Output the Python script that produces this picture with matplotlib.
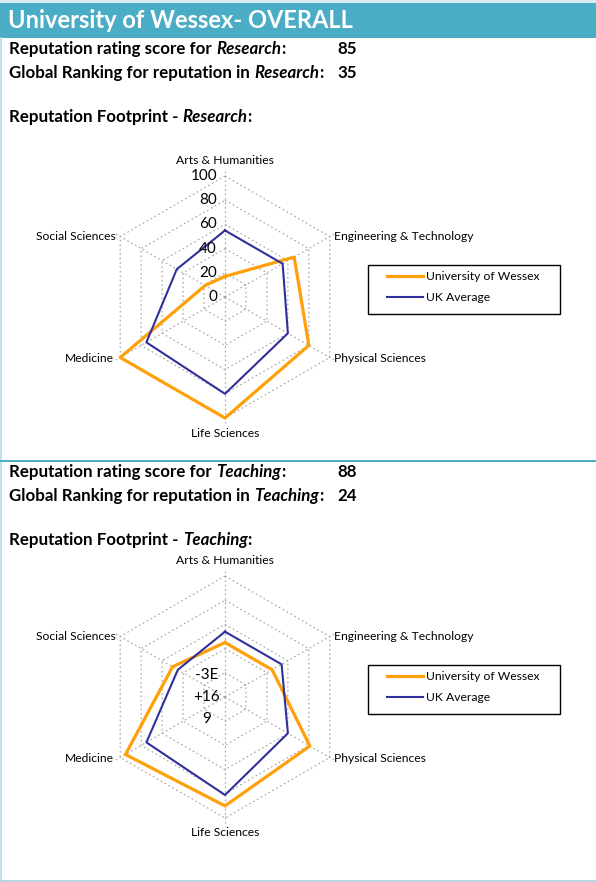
import numpy as np
import matplotlib
matplotlib.use("Agg")
from matplotlib import pyplot as plt
from matplotlib.patches import Rectangle

plt.rcParams['font.family'] = ['Lato', 'DejaVu Sans']

# data
categories = ['Arts & Humanities', 'Engineering & Technology', 'Physical Sciences',
              'Life Sciences', 'Medicine', 'Social Sciences']
research_wessex = [17, 66, 80, 100, 100, 19]
research_uk = [55, 55, 60, 80, 75, 46]
teaching_wessex = [45, 45, 81, 90, 95, 50]
teaching_uk = [54, 54, 60, 81, 75, 45]
research_ticks = [0, 20, 40, 60, 80, 100]
teaching_tick_text = '-3E\n+16\n9'
series_names = ['University of Wessex', 'UK Average']
research_score, research_rank = 85, 35
teaching_score, teaching_rank = 88, 24

ORANGE = '#FFA00A'
BLUE = '#30309C'
TEAL = '#4BACC6'
GRID = '#A0A0A0'
BODY = 12.2

W, H = 596, 882
fig = plt.figure(figsize=(W / 100, H / 100), dpi=100)
bg = fig.add_axes([0, 0, 1, 1])
bg.set_xlim(0, W)
bg.set_ylim(H, 0)
bg.axis('off')

# frame + header bar
bg.add_patch(Rectangle((0, 0), W, 3, color='#D6ECF2', lw=0))
bg.add_patch(Rectangle((0, 3), W, 35, color=TEAL, lw=0))
bg.plot([0.8, 0.8], [38, H], color='#B4DDE8', lw=1.2)
bg.plot([0, W], [460.5, 460.5], color=TEAL, lw=1.4)
bg.plot([0, W], [881, 881], color='#A6CFDB', lw=1.2)
bg.text(8, 21, 'University of Wessex- OVERALL', color='white', fontsize=17,
        fontweight='bold', va='center', ha='left')


def text_line(x, y, parts, size=BODY):
    prev = None
    for s, italic in parts:
        kw = dict(fontsize=size, fontweight='bold', fontstyle='italic' if italic else 'normal',
                  va='bottom', ha='left', color='black')
        if prev is None:
            prev = bg.annotate(s, xy=(x, y), xycoords='data', **kw)
        else:
            prev = bg.annotate(s, xy=(1, 0), xycoords=prev, **kw)
    return prev


def info_block(top, subject, score, rank):
    text_line(9, top + 57, [('Reputation rating score for ', False), (subject, True), (':', False)])
    bg.text(337, top + 57, str(score), fontsize=BODY, fontweight='bold', va='bottom')
    text_line(9, top + 81, [('Global Ranking for reputation in ', False), (subject, True), (':', False)])
    bg.text(337, top + 81, str(rank), fontsize=BODY, fontweight='bold', va='bottom')
    text_line(9, top + 125, [('Reputation Footprint - ', False), (subject, True), (':', False)])


label_offsets = [((0, 16), 'center'), ((4, 0), 'left'), ((4, -1), 'left'),
                 ((0, -15), 'center'), ((-6, -1), 'right'), ((-4, 0), 'right')]


def radar(cy, wessex, uk, ticks=None, tick_text=None):
    R = 121
    ax = fig.add_axes([(225 - R) / W, (H - cy - R) / H, 2 * R / W, 2 * R / H],
                      projection='polar')
    ax.set_theta_offset(np.pi / 2)
    ax.set_theta_direction(-1)
    ax.set_ylim(0, 100)
    ax.axis('off')
    ang = np.arange(len(categories)) * 2 * np.pi / len(categories)
    closed = np.append(ang, ang[0])
    for r in [20, 40, 60, 80, 100]:
        ax.plot(closed, [r] * len(closed), color=GRID, lw=0.8, ls=(0, (1.5, 2.5)), clip_on=False)
    for a in ang:
        ax.plot([a, a], [0, 104], color=GRID, lw=0.8, ls=(0, (1.5, 2.5)), clip_on=False)
    l1, = ax.plot(closed, wessex + wessex[:1], color=ORANGE, lw=2.3, clip_on=False)
    l2, = ax.plot(closed, uk + uk[:1], color=BLUE, lw=1.5, clip_on=False)
    for a, cat, (off, ha) in zip(ang, categories, label_offsets):
        ax.annotate(cat, xy=(a, 100), xytext=off, textcoords='offset pixels',
                    ha=ha, va='center', fontsize=8.7, annotation_clip=False)
    if ticks is not None:
        for t in ticks:
            ax.annotate(str(t), xy=(0, t), xytext=(-8, 0), textcoords='offset pixels',
                        ha='right', va='center', fontsize=11, annotation_clip=False)
    if tick_text is not None:
        ax.annotate(tick_text, xy=(0, 0), xytext=(-18, 0), textcoords='offset pixels',
                    ha='center', va='center', multialignment='center', fontsize=11,
                    linespacing=1.75, annotation_clip=False)
    # legend frame drawn separately so it keeps the box size of the original
    bg.add_patch(Rectangle((368, cy - 32), 192, 49, fill=False, ec='black', lw=1))
    ax.legend([l1, l2], series_names, loc='upper left', frameon=False,
              bbox_to_anchor=(387 / W, 1 - (cy - 26) / H), bbox_transform=fig.transFigure,
              borderpad=0, borderaxespad=0, handlelength=3.0, handletextpad=0.2,
              labelspacing=0.85, fontsize=8.7)
    return ax


info_block(0, 'Research', research_score, research_rank)
radar(297, research_wessex, research_uk, ticks=research_ticks)
info_block(423, 'Teaching', teaching_score, teaching_rank)
radar(697, teaching_wessex, teaching_uk, tick_text=teaching_tick_text)

fig.savefig('out.png', dpi=100)
